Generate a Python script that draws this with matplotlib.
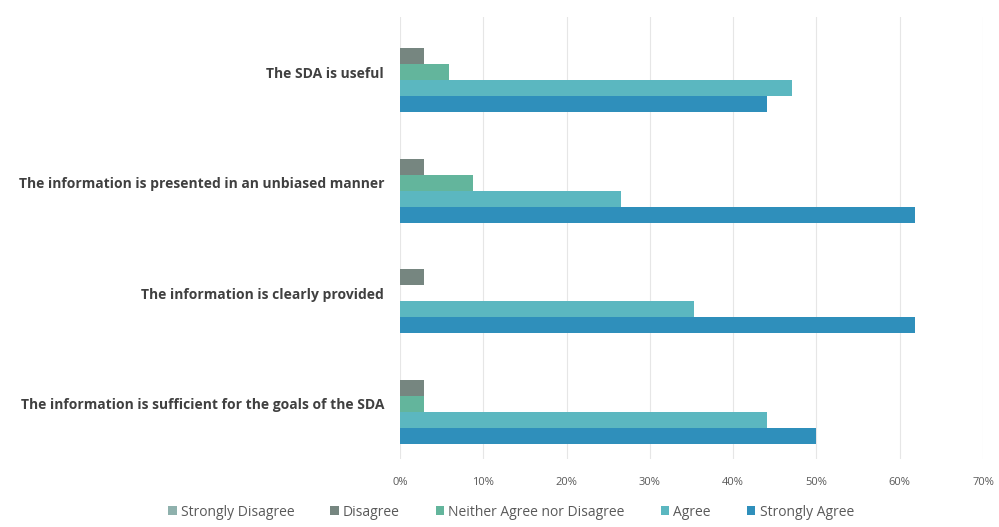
import matplotlib.pyplot as plt
import numpy as np
from matplotlib.ticker import PercentFormatter

statements = ['The SDA is useful',
              'The information is presented in an unbiased manner',
              'The information is clearly provided',
              'The information is sufficient for the goals of the SDA']
series = ['Strongly Disagree', 'Disagree', 'Neither Agree nor Disagree', 'Agree', 'Strongly Agree']
strongly_disagree = [0.0, 0.0, 0.0, 0.0]
disagree = [2.9, 2.9, 2.9, 2.9]
neither = [5.9, 8.8, 0.0, 2.9]
agree = [47.1, 26.5, 35.3, 44.1]
strongly_agree = [44.1, 61.8, 61.8, 50.0]
colors = ['#8fb1ad', '#768680', '#63b59c', '#5bb7c0', '#2f8fbb']

plt.rcParams['font.family'] = ['Open Sans', 'DejaVu Sans']

fig = plt.figure(figsize=(9.99, 5.27), dpi=100)
ax = fig.add_axes([400 / 999, 1 - 459 / 527, 583 / 999, 442 / 527])

y = np.arange(len(statements))
h = 0.145
vals = [strongly_disagree, disagree, neither, agree, strongly_agree]
for i, (name, v, c) in enumerate(zip(series, vals, colors)):
    ax.barh(y + (i - 2) * h, v, height=h, color=c, label=name, zorder=3)

ax.set_ylim(3.5, -0.5)
ax.set_xlim(0, 70)
ax.set_xticks(np.arange(0, 71, 10))
ax.xaxis.set_major_formatter(PercentFormatter(decimals=0))
ax.set_yticks(y)
ax.set_yticklabels(statements, fontsize=10, fontweight='bold', color='#404040')
ax.tick_params(axis='x', length=0, labelsize=8, labelcolor='#595959', pad=13)
ax.tick_params(axis='y', length=0, pad=11.5)
ax.grid(axis='x', color='#e6e6e6', linewidth=0.8, zorder=0)
for s in ax.spines.values():
    s.set_visible(False)

ax.legend(loc='center', bbox_to_anchor=(511 / 999, 1 - 512 / 527), bbox_transform=fig.transFigure,
          ncol=5, frameon=False, fontsize=10, labelcolor='#595959', handlelength=0.6, handleheight=0.6,
          handletextpad=0.3, columnspacing=2.6)

fig.savefig('out.png', dpi=100)
